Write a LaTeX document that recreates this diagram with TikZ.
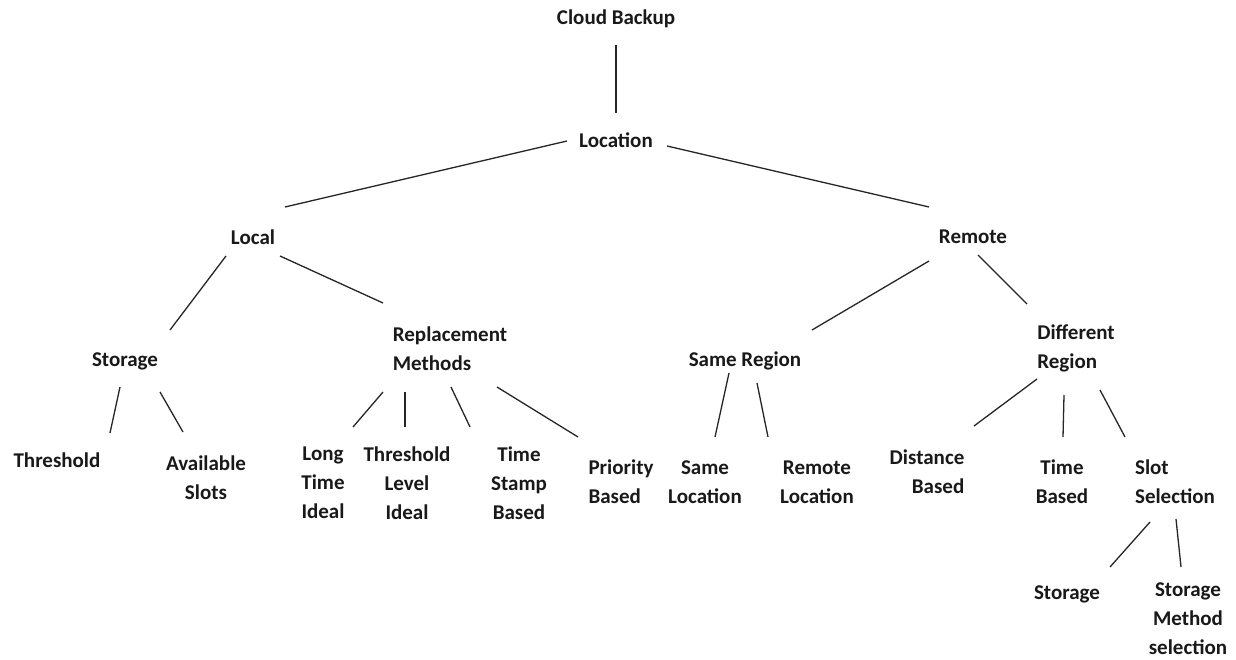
\documentclass[tikz,border=0pt]{standalone}
\usepackage{fontspec}
\setmainfont{Carlito}
\usetikzlibrary{calc}
\begin{document}
\begin{tikzpicture}[x=1pt,y=-1pt,
  lbl/.style={inner sep=0pt,font=\bfseries\fontsize{21}{29}\selectfont,text=black!90},
  lblc/.style={lbl,align=center},
  lbll/.style={lbl,align=left},
  lblr/.style={lbl,align=right},
  link/.style={draw=black!85,line width=1.3pt}]
\fill[white] (0,0) rectangle (1236,660);
\useasboundingbox (0,0) rectangle (1236,660);

% tree labels
\node[lbl] (cb) at (616,19) {Cloud Backup};
\node[lbl] (loc) at (616,140) {Location};
\node[lbl] (local) at (253,237) {Local};
\node[lbl] (remote) at (973,237) {Remote};
\node[lbl] (storage) at (125,361) {Storage};
\node[lbll] (rep) at (450,349) {Replacement\\Methods};
\node[lbl] (same) at (745,361) {Same Region};
\node[lbll] (diff) at (1076,348) {Different\\Region};
\node[lbl] (thr) at (57,460) {Threshold};
\node[lblc] (avail) at (206,478) {Available\\Slots};
\node[lblc] (lti) at (323,483) {Long\\Time\\Ideal};
\node[lblc] (tli) at (407,483) {Threshold\\Level\\Ideal};
\node[lblc] (tsb) at (519,483) {Time\\Stamp\\Based};
\node[lbll] (pb) at (621,482) {Priority\\Based};
\node[lblc] (sl) at (705,482) {Same\\Location};
\node[lblc] (rl) at (817,482) {Remote\\Location};
\node[lblr] (db) at (927,472) {Distance\\Based};
\node[lblc] (tb) at (1062,482) {Time\\Based};
\node[lbll] (ss) at (1175,482) {Slot\\Selection};
\node[lbl] (st2) at (1067,594) {Storage};
\node[lblc] (sms) at (1188,619) {Storage\\Method\\selection};

% connectors (free-floating segments between labels)
\draw[link] ($(cb)+(0,26)$) -- ($(loc)+(0,-27)$);
\draw[link] ($(loc)+(-49,1)$) -- ($(local)+(32,-30)$);
\draw[link] ($(loc)+(51,6)$) -- ($(remote)+(-44,-30)$);
\draw[link] ($(local)+(-27,19)$) -- ($(storage)+(45,-31)$);
\draw[link] ($(local)+(27,19)$) -- ($(rep)+(-67,-46)$);
\draw[link] ($(remote)+(-44,24)$) -- ($(same)+(67,-31)$);
\draw[link] ($(remote)+(5,18)$) -- ($(diff)+(-49,-44)$);
\draw[link] ($(storage)+(-5,26)$) -- ($(thr)+(53,-27)$);
\draw[link] ($(storage)+(35,31)$) -- ($(avail)+(-23,-46)$);
\draw[link] ($(rep)+(-67,43)$) -- ($(lti)+(30,-56)$);
\draw[link] ($(rep)+(-45,43)$) -- ($(tli)+(-2,-56)$);
\draw[link] ($(rep)+(1,38)$) -- ($(tsb)+(-49,-56)$);
\draw[link] ($(rep)+(47,38)$) -- ($(pb)+(-43,-45)$);
\draw[link] ($(same)+(-16,12)$) -- ($(sl)+(10,-45)$);
\draw[link] ($(same)+(12,22)$) -- ($(rl)+(-49,-45)$);
\draw[link] ($(diff)+(-39,31)$) -- ($(db)+(47,-46)$);
\draw[link] ($(diff)+(-12,47)$) -- ($(tb)+(1,-45)$);
\draw[link] ($(diff)+(24,42)$) -- ($(ss)+(-50,-45)$);
\draw[link] ($(ss)+(-25,40)$) -- ($(st2)+(43,-27)$);
\draw[link] ($(ss)+(1,37)$) -- ($(sms)+(-7,-52)$);
\end{tikzpicture}
\end{document}
